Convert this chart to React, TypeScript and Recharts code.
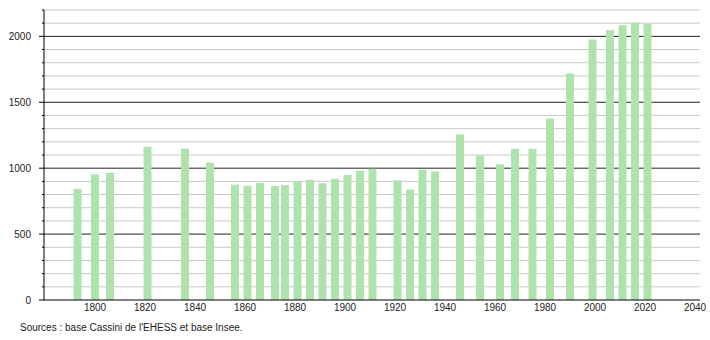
import React from 'react';
import { BarChart, Bar, XAxis, YAxis, CartesianGrid } from 'recharts';

// census years and population
const years = [
  1793, 1800, 1806, 1821, 1836, 1846, 1856, 1861, 1866, 1872, 1876, 1881,
  1886, 1891, 1896, 1901, 1906, 1911, 1921, 1926, 1931, 1936, 1946, 1954,
  1962, 1968, 1975, 1982, 1990, 1999, 2006, 2011, 2016, 2021,
];
const population = [
  844, 952, 966, 1163, 1148, 1042, 875, 867, 888, 865, 872, 897,
  912, 886, 920, 948, 981, 996, 906, 837, 989, 975, 1255, 1097,
  1029, 1148, 1147, 1376, 1719, 1977, 2046, 2085, 2106, 2093,
];

const xTicks = [1800, 1820, 1840, 1860, 1880, 1900, 1920, 1940, 1960, 1980, 2000, 2020, 2040];
const majorTicks = [0, 500, 1000, 1500, 2000];
const minorTicks = [
  100, 200, 300, 400, 600, 700, 800, 900, 1100, 1200, 1300, 1400,
  1600, 1700, 1800, 1900, 2100, 2200,
];
const yTicks = [...majorTicks, ...minorTicks].sort((a, b) => a - b);

const data = years.map((year, i) => ({ year, pop: population[i] }));

const FONT = '"Liberation Sans", Arial, sans-serif';

const YTick = (props: any) => {
  const { x, y, payload } = props;
  const major = majorTicks.includes(payload.value);
  return (
    <g>
      <line x1={x} x2={x - (major ? 5 : 2)} y1={y} y2={y} stroke="#000" strokeWidth={1} />
      {major && (
        <text x={x - 13} y={y} dy="0.36em" textAnchor="end" fontSize={10} fill="#222" fontFamily={FONT}>
          {payload.value}
        </text>
      )}
    </g>
  );
};

export default function App() {
  return (
    <div style={{ position: 'absolute', left: 0, top: 0, width: 710, height: 340, background: '#fff' }}>
      <BarChart width={710} height={340} data={data} margin={{ top: 10, right: 10, left: 0, bottom: 20 }}>
        <CartesianGrid vertical={false} horizontalValues={minorTicks} stroke="#c8c8c8" />
        <CartesianGrid vertical={false} horizontalValues={majorTicks.slice(1)} stroke="#222" />
        <XAxis
          dataKey="year"
          type="number"
          domain={[1779.6, 2042]}
          allowDataOverflow
          ticks={xTicks}
          tickLine={false}
          tickSize={0}
          tickMargin={4}
          height={20}
          axisLine={{ stroke: '#000' }}
          tick={{ fontSize: 10, fill: '#222', fontFamily: FONT }}
        />
        <YAxis
          type="number"
          domain={[0, 2200]}
          ticks={yTicks}
          interval={0}
          width={44}
          tickLine={false}
          tickSize={0}
          tickMargin={0}
          axisLine={{ stroke: '#000' }}
          tick={<YTick />}
        />
        <Bar dataKey="pop" fill="#aee3ad" barSize={8} isAnimationActive={false} />
      </BarChart>
      <div
        style={{
          position: 'absolute',
          left: 20,
          top: 322,
          fontSize: 10,
          lineHeight: '12px',
          color: '#222',
          fontFamily: FONT,
          whiteSpace: 'nowrap',
        }}
      >
        Sources : base Cassini de l'EHESS et base Insee.
      </div>
    </div>
  );
}
